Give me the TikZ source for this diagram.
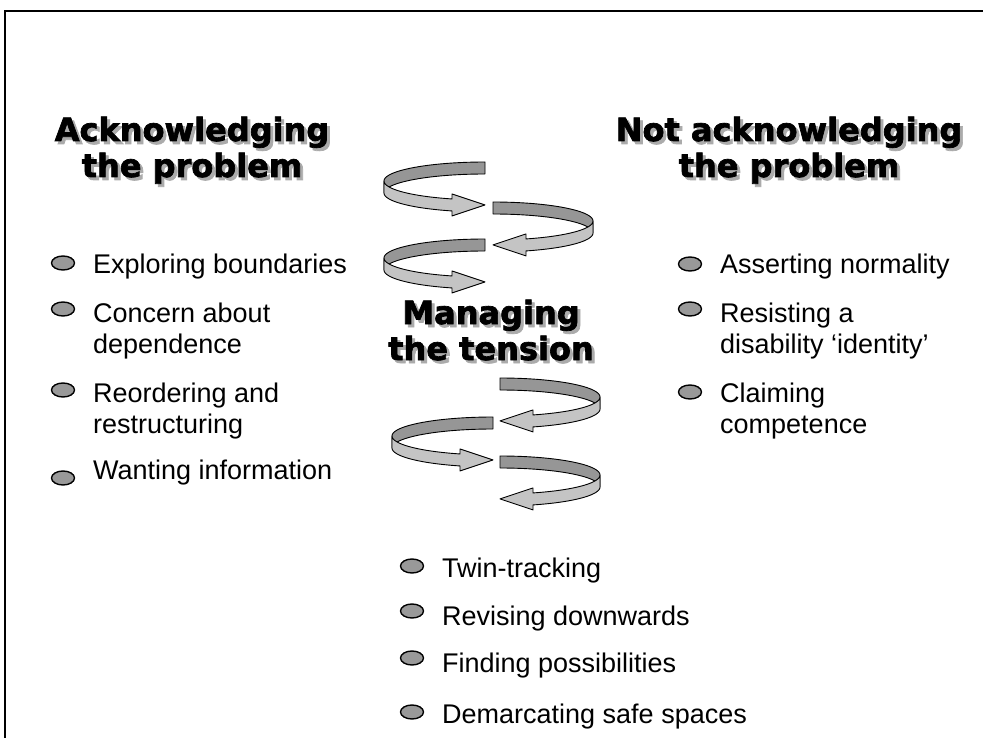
\documentclass[tikz,border=0pt]{standalone}
\usepackage{fontspec}
\setmainfont{Liberation Sans}
\newfontfamily\titlefamily{DejaVu Sans Bold}[FakeBold=2.2]
\usetikzlibrary{shapes.geometric}
\definecolor{bandback}{HTML}{969696}
\definecolor{bandfront}{HTML}{C4C4C4}
\definecolor{bulletgray}{HTML}{999999}
\definecolor{shadowgray}{HTML}{ABABAB}
\tikzset{
  ribbonback/.style={fill=bandback,draw=black,line width=0.9pt,line join=round},
  ribbonfront/.style={fill=bandfront,draw=black,line width=0.9pt,line join=round},
  bulletmark/.style={ellipse,draw=black,fill=bulletgray,line width=1.4pt,minimum width=23pt,minimum height=14pt,inner sep=0pt},
  itemtext/.style={anchor=base west,inner sep=0pt,font=\fontsize{27}{31}\selectfont},
  titletext/.style={anchor=base,inner sep=0pt,font=\titlefamily\fontsize{32}{36}\selectfont},
  titleshadow/.style={titletext,text=shadowgray},
  frameline/.style={line width=2pt,black}
}
\newcommand\spiralarrow[5]{%
  \pgfmathsetmacro\Cx{#1}\pgfmathsetmacro\Cy{#2}%
  \pgfmathsetmacro\Rx{#3}\pgfmathsetmacro\Ry{#4}\pgfmathsetmacro\Dd{#5}%
  \pgfmathsetmacro\Th{-acos(33/\Rx)}%
  \pgfmathsetmacro\Xb{\Cx+\Dd*33}%
  \pgfmathsetmacro\Yb{\Cy-\Ry*sin(\Th)}%
  \pgfmathsetmacro\Ym{\Yb+6}%
  \filldraw[ribbonback] plot[domain=90:0,samples=40,variable=\ang] ({\Cx+\Dd*\Rx*cos(\ang)},{\Cy-\Ry*sin(\ang)})
     -- plot[domain=0:90,samples=40,variable=\ang] ({\Cx+\Dd*\Rx*cos(\ang)},{\Cy-\Ry*sin(\ang)+12}) -- cycle;
  \filldraw[ribbonfront] plot[domain=0:\Th,samples=40,variable=\ang] ({\Cx+\Dd*\Rx*cos(\ang)},{\Cy-\Ry*sin(\ang)})
     -- (\Xb,\Ym-11) -- (\Cx,\Ym) -- (\Xb,\Ym+11)
     -- plot[domain=\Th:0,samples=40,variable=\ang] ({\Cx+\Dd*\Rx*cos(\ang)},{\Cy-\Ry*sin(\ang)+12}) -- cycle;
}
\begin{document}
\begin{tikzpicture}[x=1pt,y=-1pt]
\useasboundingbox (0,0) rectangle (983,738);
\fill[white] (0,0) rectangle (983,738);
% frame (top and left edges)
\coordinate (fbl) at (5,738);
\coordinate (ftl) at (5,11);
\coordinate (ftr) at (983,11);
\draw[frameline] (fbl) -- (ftl) -- (ftr);

% titles
\node[titleshadow] (t1s) at (195,144) {Acknowledging};
\node[titletext]   (t1)  at (192,141) {Acknowledging};
\node[titleshadow] (t2s) at (195,180) {the problem};
\node[titletext]   (t2)  at (192,177) {the problem};
\node[titleshadow] (t3s) at (792,144) {Not acknowledging};
\node[titletext]   (t3)  at (789,141) {Not acknowledging};
\node[titleshadow] (t4s) at (792,180) {the problem};
\node[titletext]   (t4)  at (789,177) {the problem};
\node[titleshadow] (t5s) at (494,327) {Managing};
\node[titletext]   (t5)  at (491,324) {Managing};
\node[titleshadow] (t6s) at (494,363) {the tension};
\node[titletext]   (t6)  at (491,360) {the tension};

% spiral arrows
\spiralarrow{485}{181}{101}{19}{-1}
\spiralarrow{493}{221}{100}{19}{1}
\spiralarrow{485}{258}{101}{19}{-1}
\spiralarrow{500}{397}{100}{19}{1}
\spiralarrow{493}{436}{101}{19}{-1}
\spiralarrow{500}{475}{100}{19}{1}

% left column
\node[bulletmark] (bl1) at (63,263) {};
\node[itemtext] (l1) at (93,273) {Exploring boundaries};
\node[bulletmark] (bl2) at (63,309) {};
\node[itemtext] (l2a) at (93,322) {Concern about};
\node[itemtext] (l2b) at (93,353) {dependence};
\node[bulletmark] (bl3) at (63,390) {};
\node[itemtext] (l3a) at (93,402) {Reordering and};
\node[itemtext] (l3b) at (93,433) {restructuring};
\node[bulletmark] (bl4) at (63,478) {};
\node[itemtext] (l4) at (93,479) {Wanting information};

% right column
\node[bulletmark] (br1) at (690,264) {};
\node[itemtext] (r1) at (720,273) {Asserting normality};
\node[bulletmark] (br2) at (690,309) {};
\node[itemtext] (r2a) at (720,322) {Resisting a};
\node[itemtext] (r2b) at (720,353) {disability ‘identity’};
\node[bulletmark] (br3) at (690,392) {};
\node[itemtext] (r3a) at (720,402) {Claiming};
\node[itemtext] (r3b) at (720,433) {competence};

% bottom column
\node[bulletmark] (bb1) at (412,566) {};
\node[itemtext] (b1) at (442,577) {Twin-tracking};
\node[bulletmark] (bb2) at (412,611) {};
\node[itemtext] (b2) at (442,625) {Revising downwards};
\node[bulletmark] (bb3) at (412,658) {};
\node[itemtext] (b3) at (442,672) {Finding possibilities};
\node[bulletmark] (bb4) at (412,712) {};
\node[itemtext] (b4) at (442,723) {Demarcating safe spaces};
\end{tikzpicture}
\end{document}
